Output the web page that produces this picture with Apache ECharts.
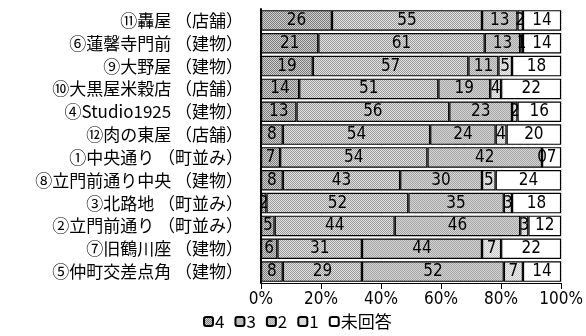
<!DOCTYPE html>
<html>
<head>
<meta charset="utf-8">
<script src="https://cdn.jsdelivr.net/npm/echarts@6/dist/echarts.min.js"></script>
<style>
  html, body { margin: 0; padding: 0; background: #fff; }
  #Map { width: 586px; height: 336px; }
</style>
</head>
<body>
<div id="Map"></div>
<script>
// categories (top to bottom)
var places = ['⑪轟屋 （店舗）','⑥蓮馨寺門前 （建物）','⑨大野屋 （建物）','⑩大黒屋米穀店 （店舗）','④Studio1925 （建物）','⑫肉の東屋 （店舗）','①中央通り （町並み）','⑧立門前通り中央 （建物）','③北路地 （町並み）','②立門前通り （町並み）','⑦旧鶴川座 （建物）','⑤仲町交差点角 （建物）'];
// answer counts
var ans4 = [26,21,19,14,13,8,7,8,2,5,6,8];
var ans3 = [55,61,57,51,56,54,54,43,52,44,31,29];
var ans2 = [13,13,11,19,23,24,42,30,35,46,44,52];
var ans1 = [2,1,5,4,2,4,0,5,3,3,7,7];
var noAns = [14,14,18,22,16,20,7,24,18,12,22,14];
var names = ['4','3','2','1','未回答'];
var xTicks = [0,20,40,60,80,100];

// checker pattern
function dots(a, b) {
  var c = document.createElement('canvas');
  c.width = 2; c.height = 2;
  var g = c.getContext('2d');
  g.fillStyle = b; g.fillRect(0,0,2,2);
  g.fillStyle = a; g.fillRect(0,0,1,1); g.fillRect(1,1,1,1);
  return {image: c, repeat: 'repeat'};
}
var fills = [dots('#7c7c7c','#cfcfcf'), dots('#9a9a9a','#e2e2e2'), dots('#a4a4a4','#d6d6d6'), dots('#c4c4c4','#f0f0f0'), '#ffffff'];

var all = [ans4, ans3, ans2, ans1, noAns];
var totals = places.map(function(p, i) {
  var s = 0;
  all.forEach(function(a) { s += a[i]; });
  return s;
});

var numFont = '"Liberation Sans Narrow", "DejaVu Sans Condensed", "Noto Sans CJK JP", sans-serif';
var jpFont = '"Noto Sans CJK JP", sans-serif';

var series = all.map(function(arr, k) {
  return {
    name: names[k],
    type: 'bar',
    stack: 'total',
    barCategoryGap: '10%',
    data: arr.map(function(v, i) { return {value: v / totals[i] * 100, raw: v}; }),
    itemStyle: { color: fills[k], borderColor: '#000', borderWidth: 1.2 },
    label: {
      show: true,
      position: 'inside',
      color: '#000',
      fontSize: 17,
      fontFamily: numFont,
      formatter: function(p) { return p.data.raw; }
    },
    emphasis: { disabled: true }
  };
});

var myChart = echarts.init(document.getElementById('Map'));
var option = {
  animation: false,
  legend: {
    data: names,
    bottom: 1,
    left: 198,
    itemWidth: 9,
    itemHeight: 9,
    itemGap: 10,
    textStyle: { fontSize: 17, fontFamily: jpFont, color: '#000', padding: [0,0,0,-3] }
  },
  grid: { left: 261, right: 22, top: 9, bottom: 53 },
  xAxis: {
    type: 'value',
    min: 0,
    max: 100,
    interval: 20,
    axisLine: { show: true, lineStyle: { color: '#000', width: 1 } },
    axisTick: { show: true, length: 6, lineStyle: { color: '#000' } },
    splitLine: { show: true, lineStyle: { color: '#ddd', type: 'dotted' } },
    axisLabel: {
      color: '#000', fontSize: 17, fontFamily: numFont, margin: 8,
      formatter: function(v) { return xTicks.indexOf(v) >= 0 ? v + '%' : ''; }
    }
  },
  yAxis: {
    type: 'category',
    inverse: true,
    data: places,
    axisLine: { show: true, lineStyle: { color: '#000', width: 2 } },
    axisTick: { show: false },
    axisLabel: { color: '#000', fontSize: 17, fontFamily: jpFont, margin: 18, interval: 0, lineHeight: 20 }
  },
  series: series
};
myChart.setOption(option);
</script>
</body>
</html>
